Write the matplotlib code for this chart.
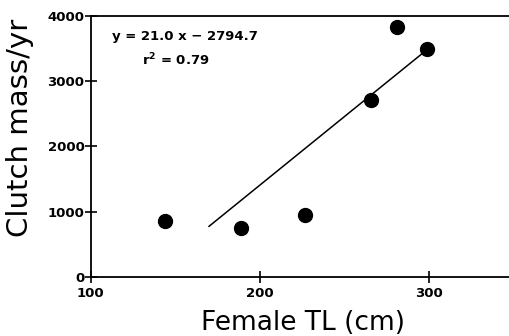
import numpy as np
import matplotlib.pyplot as plt

# values
female_tl = [144, 189, 227, 266, 281, 299]
clutch_mass = [860, 750, 950, 2710, 3830, 3490]
slope, intercept, r2 = 21.0, -2794.7, 0.79
fit_range = [170, 297]
x_ticks = [100, 200, 300]
y_ticks = [0, 1000, 2000, 3000, 4000]

fig = plt.figure(figsize=(5.1, 3.36), dpi=100)
ax = fig.add_axes([0.178, 0.176, 0.828, 0.776])

xfit = np.array(fit_range)
ax.plot(xfit, slope * xfit + intercept, color='black', lw=1.1)
ax.scatter(female_tl, clutch_mass, s=100, color='black', zorder=3)

ax.set_xlim(100, 350)
ax.set_ylim(0, 4000)
ax.set_xticks(x_ticks)
ax.set_yticks(y_ticks)
ax.tick_params(direction='inout', length=9, width=1.2, labelsize=9.5)
ax.tick_params(axis='x', pad=3)
ax.tick_params(axis='y', pad=0)
for lab in ax.get_xticklabels() + ax.get_yticklabels():
    lab.set_fontweight('bold')
for s in ['left', 'bottom', 'top']:
    ax.spines[s].set_linewidth(1.3)
ax.spines['right'].set_visible(False)

ax.set_xlabel('Female TL (cm)', fontsize=19)
ax.set_ylabel('Clutch mass/yr', fontsize=21)
ax.xaxis.set_label_coords(0.502, -0.176)
ax.yaxis.set_label_coords(-0.168, 0.57)
ax.xaxis.label.set_va('center')
ax.yaxis.label.set_va('center')

ax.text(0.223, 0.92, f'y = {slope:.1f} x \u2212 {abs(intercept):.1f}', transform=ax.transAxes,
        ha='center', va='center', fontsize=9.5, fontweight='bold')
ax.text(0.201, 0.831, r'r$^\mathbf{2}$' + f' = {r2:.2f}', transform=ax.transAxes,
        ha='center', va='center', fontsize=9.5, fontweight='bold')

plt.savefig('out.png', dpi=100)
